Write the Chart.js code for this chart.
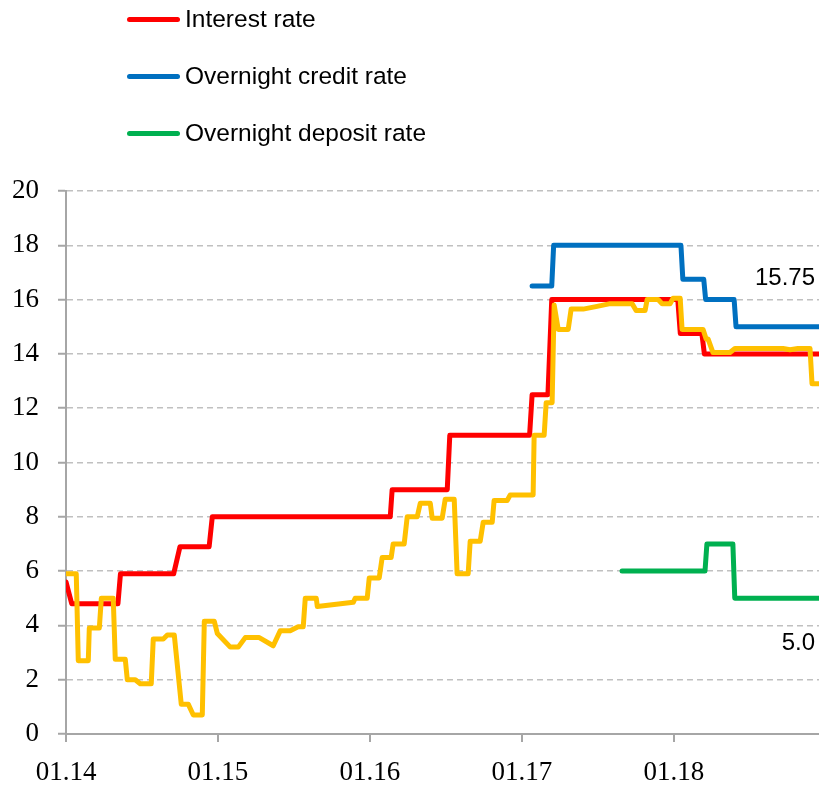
<!DOCTYPE html>
<html><head><meta charset="utf-8">
<script src="https://cdn.jsdelivr.net/npm/chart.js@4/dist/chart.umd.min.js"></script>
<style>
html,body{margin:0;padding:0;background:#fff;}
#wrap{position:relative;width:819px;height:786px;overflow:hidden;}
canvas{position:absolute;left:0;top:0;}
#legend{position:absolute;left:127px;top:0;font-family:"Liberation Sans",Arial,sans-serif;font-size:24.5px;color:#000;}
.item{position:absolute;left:0;display:flex;align-items:center;white-space:nowrap;height:30px;}
.sw{width:53px;height:5px;border-radius:3px;margin-right:5px;}
</style></head><body>
<div id="wrap"><canvas id="c" width="819" height="786"></canvas><div id="legend"></div></div>
<script>
// months counted from January 2014
const tickMonths = [0, 12, 24, 36, 48];
const tickLabels = ['01.14', '01.15', '01.16', '01.17', '01.18'];
const yTicks = [0, 2, 4, 6, 8, 10, 12, 14, 16, 18, 20];

const interestX = [0, 0.45, 4.1, 4.3, 8.5, 9.0, 11.3, 11.55, 25.6, 25.75, 30.1, 30.3, 36.6, 36.8, 38.05, 38.35, 48.3, 48.5, 50.2, 50.4, 59.5];
const interestY = [5.6, 4.8, 4.8, 5.9, 5.9, 6.9, 6.9, 8, 8, 9, 9, 11, 11, 12.5, 12.5, 16, 16, 14.75, 14.75, 14, 14];

const creditX = [36.8, 38.35, 38.5, 48.55, 48.7, 50.35, 50.5, 52.75, 52.9, 59.5];
const creditY = [16.5, 16.5, 18, 18, 16.75, 16.75, 16, 16, 15, 15];

const depositX = [43.9, 50.45, 50.6, 52.65, 52.8, 59.5];
const depositY = [6, 6, 7, 7, 5, 5];

const marketX = [0, 0.81, 0.97, 1.76, 1.84, 2.63, 2.79, 3.73, 3.89, 4.68, 4.84, 5.47, 5.86, 6.73, 6.89, 7.68, 8.0, 8.55, 9.1, 9.65, 10.05, 10.76, 10.92, 11.71, 11.95, 12.97, 13.6, 14.15, 15.26, 16.36, 16.91, 17.7, 18.33, 18.73, 18.89, 19.76, 19.84, 22.68, 22.83, 23.78, 23.94, 24.73, 24.96, 25.67, 25.83, 26.7, 26.94, 27.73, 27.97, 28.76, 28.91, 29.7, 29.94, 30.65, 30.88, 31.75, 31.91, 32.7, 32.94, 33.65, 33.8, 34.83, 35.07, 36.88, 36.96, 37.75, 37.91, 38.38, 38.54, 38.86, 39.65, 39.88, 40.83, 41.93, 42.96, 44.7, 45.01, 45.72, 45.88, 46.75, 47.06, 47.69, 47.93, 48.49, 48.64, 50.3, 50.54, 50.69, 51.08, 52.42, 52.81, 56.61, 57.16, 57.79, 58.74, 58.9, 59.5];
const marketY = [5.9, 5.9, 2.7, 2.7, 3.9, 3.9, 5.0, 5.0, 2.75, 2.75, 2.0, 2.0, 1.85, 1.85, 3.5, 3.5, 3.65, 3.65, 1.1, 1.1, 0.7, 0.7, 4.15, 4.15, 3.7, 3.2, 3.2, 3.55, 3.55, 3.25, 3.8, 3.8, 3.95, 3.95, 5.0, 5.0, 4.7, 4.85, 5.0, 5.0, 5.75, 5.75, 6.5, 6.5, 7.0, 7.0, 8.0, 8.0, 8.5, 8.5, 7.95, 7.95, 8.65, 8.65, 5.9, 5.9, 7.1, 7.1, 7.8, 7.8, 8.6, 8.6, 8.8, 8.8, 11.0, 11.0, 12.2, 12.2, 15.8, 14.9, 14.9, 15.65, 15.65, 15.75, 15.85, 15.85, 15.6, 15.6, 16.0, 16.0, 15.85, 15.85, 16.05, 16.05, 14.9, 14.9, 14.55, 14.55, 14.05, 14.05, 14.2, 14.2, 14.15, 14.2, 14.2, 12.9, 12.9];

const noteTexts = ['15.75', '5.0'];
const noteValues = [16.8, 3.35];

const legendNames = ['Interest rate', 'Overnight credit rate', 'Overnight deposit rate'];
const colors = { interest: '#FF0000', credit: '#0070C0', deposit: '#00B050', market: '#FFC000' };

const pts = (xs, ys) => xs.map((x, i) => ({ x: x, y: ys[i] }));

const datasets = [
  { label: legendNames[0], data: pts(interestX, interestY), borderColor: colors.interest, order: 1 },
  { label: legendNames[1], data: pts(creditX, creditY), borderColor: colors.credit, order: 2 },
  { label: legendNames[2], data: pts(depositX, depositY), borderColor: colors.deposit, order: 3 },
  { label: 'Money market rate', data: pts(marketX, marketY), borderColor: colors.market, order: 0 }
];

// HTML legend (first three series)
const lg = document.getElementById('legend');
const legendCenters = [19, 76, 133];
legendNames.forEach((n, i) => {
  const d = document.createElement('div');
  d.className = 'item';
  d.style.top = (legendCenters[i] - 15) + 'px';
  const s = document.createElement('span');
  s.className = 'sw';
  s.style.background = datasets[i].borderColor;
  const t = document.createElement('span');
  t.textContent = n;
  d.appendChild(s); d.appendChild(t);
  lg.appendChild(d);
});

const notesPlugin = {
  id: 'notes',
  afterDatasetsDraw(chart) {
    const { ctx, chartArea, scales } = chart;
    ctx.save();
    ctx.font = '24px "Liberation Sans", Arial, sans-serif';
    ctx.fillStyle = '#000';
    ctx.textAlign = 'right';
    ctx.textBaseline = 'middle';
    noteTexts.forEach((t, i) => ctx.fillText(t, chartArea.right - 4, scales.y.getPixelForValue(noteValues[i])));
    ctx.restore();
  }
};

const serif = { family: '"Liberation Serif", "Times New Roman", serif', size: 27 };

new Chart(document.getElementById('c'), {
  type: 'line',
  data: { datasets: datasets.map(d => Object.assign({ borderWidth: 5, pointRadius: 0, fill: false, tension: 0, borderJoinStyle: 'round', borderCapStyle: 'round' }, d)) },
  options: {
    responsive: false,
    animation: false,
    layout: { padding: { top: 191, left: 0, right: 0, bottom: 0 } },
    plugins: { legend: { display: false }, tooltip: { enabled: false } },
    scales: {
      x: {
        type: 'linear', min: 0, max: 59.45,
        afterBuildTicks: s => { s.ticks = tickMonths.map(v => ({ value: v })); },
        afterFit: s => { s.height = 52; },
        ticks: { autoSkip: false, maxRotation: 0, padding: 15, color: '#000', font: serif,
          callback: v => tickLabels[tickMonths.indexOf(v)] },
        grid: { drawOnChartArea: false, drawTicks: true, tickLength: 8, color: '#A6A6A6', lineWidth: 2 },
        border: { color: '#A6A6A6', width: 2 }
      },
      y: {
        min: 0, max: 20,
        afterBuildTicks: s => { s.ticks = yTicks.map(v => ({ value: v })); },
        afterFit: s => { s.width = 66; },
        ticks: { padding: 19, color: '#000', font: serif, callback: v => String(v) },
        grid: { color: '#C0C0C0', lineWidth: 1.5, tickLength: 8, tickColor: '#A6A6A6', tickWidth: 2, tickBorderDash: [] },
        border: { color: '#A6A6A6', width: 2, dash: [6, 4] }
      }
    }
  },
  plugins: [notesPlugin]
});
</script>
</body></html>
